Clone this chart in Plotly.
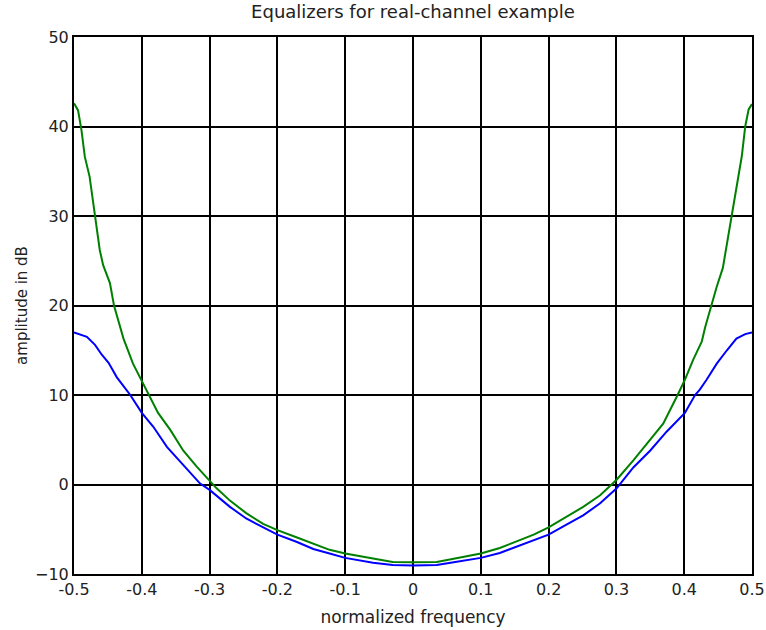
import plotly.graph_objects as go

green_x = [-0.5, -0.494, -0.489, -0.484, -0.477, -0.469, -0.462, -0.457, -0.447, -0.441,
           -0.427, -0.413, -0.400, -0.390, -0.376, -0.358, -0.339, -0.319, -0.300, -0.290,
           -0.270, -0.246, -0.221, -0.200, -0.172, -0.147, -0.123, -0.100, -0.059, -0.030,
           0.0, 0.035, 0.060, 0.100, 0.128, 0.178, 0.200, 0.227, 0.251, 0.276,
           0.300, 0.325, 0.350, 0.369, 0.389, 0.401, 0.413, 0.426, 0.431, 0.440,
           0.448, 0.457, 0.470, 0.480, 0.485, 0.490, 0.495, 0.5]
green_y = [42.6, 41.8, 39.6, 36.6, 34.4, 30.0, 26.2, 24.5, 22.5, 20.0,
           16.3, 13.5, 11.6, 10.0, 8.0, 6.1, 3.8, 2.0, 0.5, -0.4,
           -1.8, -3.2, -4.4, -5.1, -5.9, -6.6, -7.3, -7.7, -8.3, -8.65,
           -8.7, -8.65, -8.3, -7.7, -7.1, -5.6, -4.8, -3.6, -2.5, -1.2,
           0.5, 2.7, 5.0, 6.8, 9.8, 11.7, 13.9, 16.0, 17.6, 20.0,
           22.1, 24.2, 30.0, 34.4, 36.7, 40.0, 41.9, 42.5]

blue_x = [-0.5, -0.481, -0.469, -0.459, -0.449, -0.437, -0.425, -0.417, -0.400, -0.383,
          -0.363, -0.339, -0.314, -0.300, -0.270, -0.246, -0.221, -0.200, -0.172, -0.147,
          -0.123, -0.100, -0.059, -0.030, 0.0, 0.035, 0.060, 0.100, 0.128, 0.178,
          0.200, 0.227, 0.251, 0.276, 0.300, 0.325, 0.350, 0.374, 0.401, 0.416,
          0.423, 0.433, 0.448, 0.463, 0.477, 0.490, 0.5]
blue_y = [17.0, 16.5, 15.6, 14.5, 13.6, 12.0, 10.8, 10.0, 8.0, 6.45,
          4.2, 2.2, 0.1, -0.6, -2.5, -3.8, -4.75, -5.6, -6.4, -7.2,
          -7.7, -8.2, -8.75, -9.0, -9.05, -9.0, -8.7, -8.2, -7.65, -6.25,
          -5.6, -4.45, -3.45, -2.1, -0.45, 1.9, 3.8, 5.9, 8.0, 10.0,
          10.6, 11.7, 13.5, 15.0, 16.3, 16.8, 17.0]

x_ticks = [-0.5, -0.4, -0.3, -0.2, -0.1, 0, 0.1, 0.2, 0.3, 0.4, 0.5]
x_labels = ["-0.5", "-0.4", "-0.3", "-0.2", "-0.1", "0", "0.1", "0.2", "0.3", "0.4", "0.5"]
y_ticks = [-10, 0, 10, 20, 30, 40, 50]

FONT = "DejaVu Sans, Liberation Sans, sans-serif"
FS = 16

fig = go.Figure()
fig.add_trace(go.Scatter(x=blue_x, y=blue_y, mode="lines",
                         line=dict(color="#0000ff", width=2), showlegend=False))
fig.add_trace(go.Scatter(x=green_x, y=green_y, mode="lines",
                         line=dict(color="#008000", width=2), showlegend=False))

fig.update_layout(
    width=766, height=630,
    paper_bgcolor="white", plot_bgcolor="white",
    margin=dict(l=74, r=14, t=37, b=56, autoexpand=False),
    font=dict(family=FONT, size=FS, color="#222222"),
    title=dict(text="Equalizers for real-channel example", x=0.5,
               xanchor="center", xref="paper",
               y=1 - 12 / 630, yanchor="middle", yref="container",
               font=dict(family=FONT, size=18, color="#222222")),
    xaxis=dict(range=[-0.5, 0.5], tickvals=x_ticks, ticktext=x_labels,
               showgrid=True, gridcolor="black", gridwidth=2,
               showline=True, linecolor="black", linewidth=2, mirror=True,
               zeroline=False, ticks="", automargin=False,
               tickfont=dict(family=FONT, size=FS),
               title=dict(text="normalized frequency", standoff=13,
                          font=dict(family=FONT, size=17))),
    yaxis=dict(range=[-10, 50], tickvals=y_ticks,
               showgrid=True, gridcolor="black", gridwidth=2,
               showline=True, linecolor="black", linewidth=2, mirror=True,
               zeroline=False, ticks="", automargin=False,
               tickfont=dict(family=FONT, size=FS),
               title=dict(text="amplitude in dB", standoff=4,
                          font=dict(family=FONT, size=15))),
)

fig.write_html("out.html")
